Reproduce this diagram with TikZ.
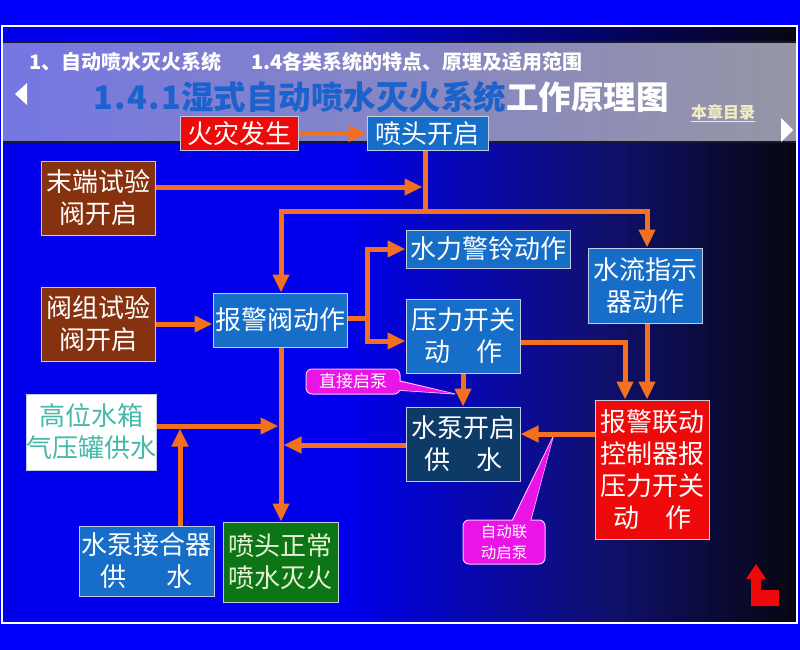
\documentclass[tikz,border=0pt]{standalone}
\usepackage{fontspec}
\setmainfont{Noto Sans CJK SC}
\usetikzlibrary{arrows.meta}
\definecolor{outerblue}{RGB}{0,0,250}
\definecolor{mainblue}{RGB}{0,0,236}
\definecolor{midnavy}{RGB}{16,16,112}
\definecolor{nearblack}{RGB}{6,6,16}
\definecolor{hdleft}{RGB}{118,118,228}
\definecolor{hdright}{RGB}{150,150,166}
\definecolor{darkline}{RGB}{25,25,45}
\definecolor{boxblue}{RGB}{22,110,200}
\definecolor{boxbrown}{RGB}{135,50,15}
\definecolor{boxred}{RGB}{238,10,10}
\definecolor{boxgreen}{RGB}{12,118,22}
\definecolor{boxteal}{RGB}{14,58,104}
\definecolor{boxline}{RGB}{195,205,225}
\definecolor{arrorange}{RGB}{242,112,32}
\definecolor{tankteal}{RGB}{70,185,170}
\definecolor{calfill}{RGB}{235,20,230}
\definecolor{calline}{RGB}{255,190,255}
\definecolor{tblue}{RGB}{28,98,205}
\definecolor{cream}{RGB}{242,236,196}
\definecolor{greentext}{RGB}{235,242,212}
\pgfdeclarelayer{bg}
\pgfdeclarelayer{conn}
\pgfsetlayers{bg,conn,main}
\begin{document}
\begin{tikzpicture}[x=1pt,y=-1pt,
  chartbox/.style={draw=boxline, line width=1pt, inner sep=0pt, align=center, text=white,
    font=\fontsize{26pt}{32pt}\selectfont},
  arr/.style={draw=arrorange, line width=5pt, -{Triangle[length=18pt,width=16pt]}},
  ln/.style={draw=arrorange, line width=5pt},
  callout/.style={fill=calfill, draw=calline, line width=1pt, rounded corners=6pt,
    inner sep=0pt, align=center, text=white}]
\useasboundingbox (0,0) rectangle (800,650);

\begin{pgfonlayer}{bg}
  % outer and slide backgrounds
  \fill[outerblue] (0,0) rectangle (800,650);
  \fill[mainblue] (2,26) rectangle (350,623);
  \shade[left color=mainblue, right color=midnavy] (350,142) rectangle (600,623);
  \shade[left color=midnavy, right color=nearblack] (600,142) rectangle (797,623);
  % top strip
  \fill[mainblue] (2,26) rectangle (300,42);
  \shade[left color=mainblue, right color=nearblack] (300,26) rectangle (797,42);
  % header band
  \shade[left color=hdleft, right color=hdright] (2,42) rectangle (797,142);
  \draw[darkline, line width=1.5pt] (2,42) -- (797,42);
  \draw[darkline, line width=1.5pt] (2,142) -- (797,142);
  \draw[white, line width=1.5pt] (2,26) rectangle (797,623);
  % navigation triangles
  \fill[white] (15,94) -- (27,83) -- (27,105) -- cycle;
  \fill[white] (793,130) -- (781,118) -- (781,142) -- cycle;
  % return icon
  \fill[boxred] (756,564) -- (766,579) -- (761,579) -- (761,590) -- (779,590) -- (779,606)
     -- (751,606) -- (751,579) -- (746,579) -- cycle;
\end{pgfonlayer}

% header texts
\node[anchor=west, inner sep=0pt, text=white, font=\bfseries\fontsize{20pt}{20pt}\selectfont] (sub) at (29,62)
  {1、自动喷水灭火系统\hspace{30pt}1.4各类系统的特点、原理及适用范围};
\node[anchor=west, inner sep=0pt, font=\bfseries\fontsize{32.5pt}{33pt}\selectfont] (title) at (93,97)
  {\textcolor{tblue}{1\hspace{1.5pt}.\hspace{1.5pt}4\hspace{1.5pt}.\hspace{1.5pt}1湿式自动喷水灭火系统}\textcolor{white}{工作原理图}};
\node[inner sep=0pt, text=cream, font=\bfseries\fontsize{16pt}{16pt}\selectfont] (toc) at (723,113) {\underline{本章目录}};

% boxes
\node[chartbox, fill=boxred, minimum width=118pt, minimum height=33pt] (fire) at (239,133.5) {火灾发生};
\node[chartbox, fill=boxblue, minimum width=121pt, minimum height=33pt] (head) at (427.5,133.5) {喷头开启};
\node[chartbox, fill=boxbrown, minimum width=114pt, minimum height=74pt] (endtest) at (98,198) {末端试验\\阀开启};
\node[chartbox, fill=boxbrown, minimum width=114pt, minimum height=74pt] (grptest) at (98,324) {阀组试验\\阀开启};
\node[chartbox, fill=boxblue, minimum width=134pt, minimum height=54pt] (alarmv) at (280,320) {报警阀动作};
\node[chartbox, fill=boxblue, minimum width=164pt, minimum height=38pt] (bell) at (488,249) {水力警铃动作};
\node[chartbox, fill=boxblue, minimum width=114pt, minimum height=75pt] (flow) at (645.5,285.5) {水流指示\\器动作};
\node[chartbox, fill=boxblue, minimum width=114pt, minimum height=74pt] (press) at (463,336) {压力开关\\动　作};
\node[chartbox, fill=boxteal, minimum width=114pt, minimum height=74pt] (pump) at (463,444) {水泵开启\\供　水};
\node[chartbox, fill=boxred, minimum width=114pt, minimum height=139pt] (ctrl) at (652,469.5) {报警联动\\控制器报\\压力开关\\动　作};
\node[chartbox, fill=white, text=tankteal, minimum width=127pt, minimum height=76pt] (tank) at (91.5,432) {高位水箱\\气压罐供水};
\node[chartbox, fill=boxblue, minimum width=135pt, minimum height=70pt] (conn) at (146.5,561) {水泵接合器\\供\hspace{41pt}水};
\node[chartbox, fill=boxgreen, text=greentext, minimum width=115pt, minimum height=80pt] (spray) at (280.5,562) {喷头正常\\喷水灭火};

% connector helper points
\coordinate (j1) at (425,211);
\coordinate (tl) at (281,211);
\coordinate (tr) at (647,211);
\coordinate (e1) at (422.5,187);
\coordinate (br) at (367,318);
\coordinate (pa) at (0,341);
\coordinate (t1) at (278.5,426);
\coordinate (c1) at (180,428.5);
\coordinate (p1) at (283.5,445);
\coordinate (k1) at (625,342);
\coordinate (k2) at (0,434);

\begin{pgfonlayer}{conn}
  \draw[arr] (fire) -- (head);
  \draw[ln] (head.south -| j1) -- (j1);
  \draw[arr] (endtest.east |- e1) -- (e1);
  \draw[arr] (j1) -- (tl) -- (tl |- alarmv.north);
  \draw[arr] (j1) -- (tr) -- (tr |- flow.north);
  \draw[arr] (grptest.east) -- (alarmv.west |- grptest.east);
  \draw[ln] (alarmv.east |- br) -- (br);
  \draw[arr] (br) |- (bell.west);
  \draw[arr] (br) |- (press.west |- pa);
  \draw[arr] (alarmv.south -| tl) -- (spray.north -| tl);
  \draw[arr] (tank.east |- t1) -- (t1);
  \draw[arr] (c1 |- conn.north) -- (c1);
  \draw[arr] (pump.west |- p1) -- (p1);
  \draw[arr] (press.south) -- (pump.north);
  \draw[arr] (press.east |- k1) -| (ctrl.north -| k1);
  \draw[arr] (flow.south -| tr) -- (ctrl.north -| tr);
  \draw[arr] (ctrl.west |- k2) -- (pump.east |- k2);
\end{pgfonlayer}

% callouts
\filldraw[fill=calfill, draw=calline, line width=1pt] (396,380) -- (455,394) -- (396,390) -- cycle;
\node[callout, minimum width=94pt, minimum height=25pt, font=\fontsize{17pt}{20pt}\selectfont] (cb1) at (353,381.5) {直接启泵};
\fill[calfill] (392,380.6) -- (453,393.6) -- (392,389.4) -- cycle;

\filldraw[fill=calfill, draw=calline, line width=1pt] (511,523) -- (553,437) -- (530,523) -- cycle;
\node[callout, minimum width=82pt, minimum height=44pt, font=\fontsize{15.5pt}{21pt}\selectfont] (cb2) at (504,542) {自动联\\动启泵};
\fill[calfill] (511.6,524) -- (552.5,439) -- (529.4,524) -- cycle;
\end{tikzpicture}
\end{document}
